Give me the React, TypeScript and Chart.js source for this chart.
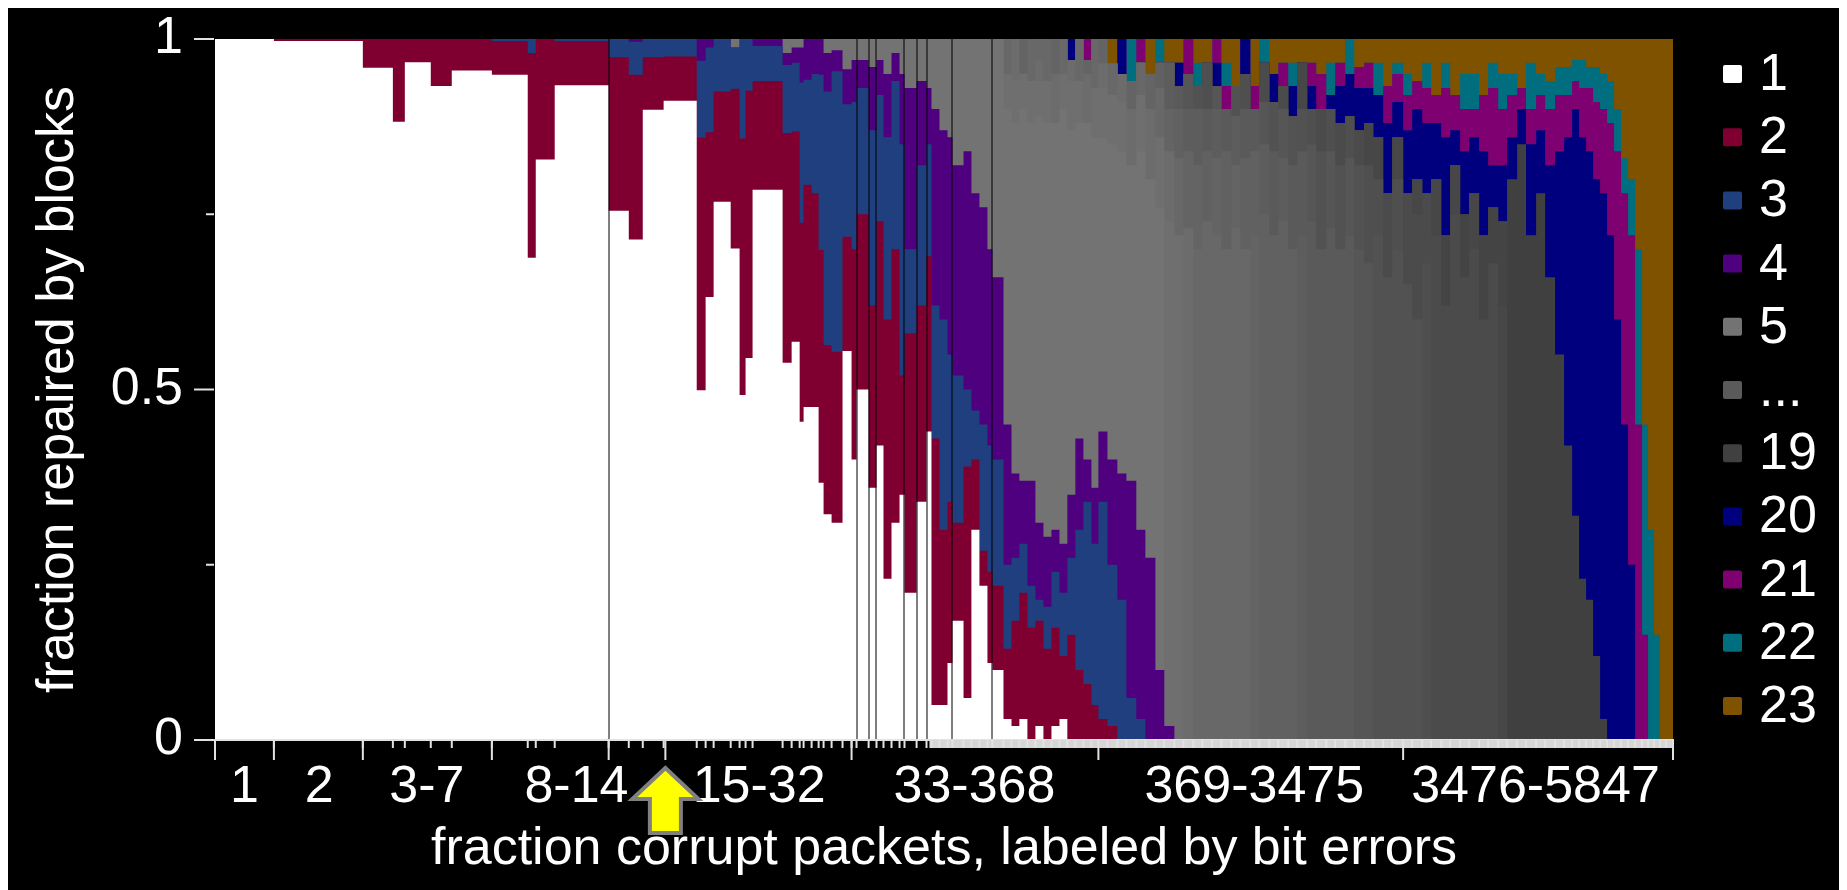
import { useEffect, useRef } from "react";
import { Chart, registerables } from "chart.js";

Chart.register(...registerables);

// Bin boundaries on the x axis: cumulative fraction of corrupt packets.
// Each bin holds one bit-error count (neighbouring counts merged where thin).
const binEdges = [
  0, 0.0404, 0.1014, 0.122, 0.1302, 0.148, 0.1624, 0.1899, 0.2145, 0.22, 0.233,
  0.27, 0.2838, 0.2934, 0.3077, 0.3304, 0.3365, 0.342, 0.3537, 0.3598, 0.3639, 0.3687,
  0.3893, 0.3955, 0.401, 0.4037, 0.4092, 0.414, 0.4174, 0.4229, 0.4304, 0.4366,
  0.44, 0.4483, 0.4537, 0.4585, 0.464, 0.4695, 0.4729, 0.4812, 0.488, 0.4914, 0.4969,
  0.5024, 0.5058, 0.5134, 0.5188, 0.5243, 0.5298, 0.5332, 0.5408, 0.5463, 0.5517,
  0.5572, 0.5627, 0.5682, 0.5737, 0.5792, 0.5846, 0.5901, 0.5956, 0.6011, 0.6059,
  0.6121, 0.6189, 0.6251, 0.6319, 0.6381, 0.645, 0.6511, 0.658, 0.6642, 0.671, 0.6772,
  0.684, 0.6902, 0.6971, 0.7032, 0.7101, 0.7162, 0.7231, 0.7293, 0.7361, 0.7423,
  0.7491, 0.7553, 0.7622, 0.7683, 0.7752, 0.7814, 0.7882, 0.7944, 0.8012, 0.8074,
  0.8149, 0.8211, 0.828, 0.8341, 0.841, 0.8472, 0.854, 0.8602, 0.867, 0.8732, 0.8801,
  0.8862, 0.8931, 0.8992, 0.9061, 0.9123, 0.9191, 0.9253, 0.9308, 0.9356, 0.9404,
  0.9452, 0.95, 0.9548, 0.9596, 0.9644, 0.9692, 0.974, 0.9788, 0.9829, 0.987, 0.9911,
  0.9952, 1,
];

// Number of blocks needed for the repair: the stacked layers, bottom to top.
const blockCounts = [
  "1", "2", "3", "4", "5", "6", "7", "8", "9", "10", "11", "12",
  "13", "14", "15", "16", "17", "18", "19", "20", "21", "22", "23",
];

// Share of each bin repaired by exactly k blocks, listed from the bin given in firstBin.
const repairedBy1 = [
  1, 0.997, 0.959, 0.882, 0.967, 0.933, 0.955, 0.949, 0.688, 0.828, 0.934,
  0.755, 0.714, 0.899, 0.912, 0.499, 0.632, 0.768, 0.701, 0.492, 0.545, 0.785, 0.538,
  0.568, 0.454, 0.475, 0.475, 0.367, 0.322, 0.31, 0.555,
  0.4, 0.5, 0.36, 0.42, 0.23, 0.31, 0.35, 0.21, 0.34, 0.44, 0.05, 0.05, 0.11, 0.17,
  0.06, 0.3, 0.22, 0.11, 0.1, 0.03, 0.02, 0.03, 0, 0.02, 0, 0.02, 0.03,
];
const repairedBy2 = [
  0.003, 0.041, 0.118, 0.033, 0.067, 0.045, 0.048, 0.292, 0.172, 0.063,
  0.219, 0.235, 0.075, 0.063, 0.36, 0.235, 0.157, 0.228, 0.366, 0.381, 0.155, 0.328,
  0.3, 0.284, 0.317, 0.305, 0.332, 0.241, 0.244, 0.163,
  0.3, 0.25, 0.26, 0.32, 0.37, 0.39, 0.17, 0.37, 0.28, 0.25, 0.38, 0.25, 0.23, 0.14,
  0.33, 0.1, 0.05, 0.13, 0.12,
  0.1, 0.15, 0.18, 0.16, 0.15, 0.13, 0.14, 0.09, 0.15, 0.1, 0.08, 0.05, 0.03, 0.02,
];
const repairedBy3 = [
  0.003, 0.02, 0, 0.003,
  0.026, 0.047, 0.026, 0.025, 0.11, 0.121, 0.075, 0.059, 0.142, 0.074, 0.05, 0.097,
  0.098, 0.2, 0.15, 0.17, 0.25, 0.362, 0.4, 0.189,
  0.21, 0.18, 0.25, 0.18, 0.26, 0.24, 0.33, 0.12, 0.2, 0.16, 0.19, 0.3, 0.21, 0.21,
  0.11, 0.07, 0.18, 0.18, 0.18,
  0.12, 0.09, 0.07, 0.06, 0.03, 0.06, 0.08, 0.09, 0.11, 0.2, 0.26, 0.23, 0.31, 0.23,
  0.2, 0.06, 0.03,
];
const repairedBy4 = [
  0.004, 0, 0, 0.031, 0.012, 0, 0, 0, 0, 0.01, 0.017, 0.022, 0.05, 0.058, 0.05, 0.051,
  0.055, 0.03, 0.05,
  0.06, 0.04, 0.09, 0.05, 0.09, 0.04, 0.1, 0.23, 0.12, 0.08, 0.28, 0.27, 0.31, 0.3,
  0.34, 0.31, 0.31, 0.28, 0.26,
  0.2, 0.12, 0.09, 0.15, 0.11, 0.1, 0.06, 0.07, 0.09, 0.13, 0.06, 0.08, 0.1, 0.15,
  0.18, 0.31, 0.27, 0.26, 0.1, 0.02,
];
const repairedBy5 = [
  0.012, 0, 0, 0, 0.02, 0.012, 0.012, 0, 0, 0, 0.02, 0.016, 0.043,
  0.03, 0.03, 0.04, 0.03, 0.05, 0.02, 0.05, 0.07, 0.06, 0.07, 0.1, 0.13, 0.14, 0.18,
  0.16, 0.22, 0.24, 0.3, 0.34,
  0.45, 0.5, 0.53, 0.51, 0.58, 0.59, 0.58, 0.62, 0.52, 0.45, 0.48, 0.5, 0.42, 0.45,
  0.46, 0.45, 0.54, 0.54, 0.66,
];
const repairedBy6 = [
  0.05, 0.06, 0.05, 0.06, 0.05, 0.06, 0, 0.05, 0.07, 0.06, 0, 0.07, 0.07, 0.07, 0.07,
  0, 0.08, 0, 0.1, 0.72, 0.72,
];
const repairedBy7 = [
  0.06, 0, 0, 0.03, 0, 0.07, 0, 0.03, 0, 0.07, 0, 0.035, 0, 0.04, 0.08, 0, 0.1, 0,
  0.1, 0, 0.73,
];
const repairedBy8 = [
  0.05, 0, 0, 0.06, 0.03, 0.06, 0, 0.05, 0, 0.06, 0, 0.07, 0, 0.045, 0, 0, 0.046, 0,
  0.07, 0, 0.11, 0, 0.7, 0.74, 0.72, 0.7, 0.73, 0.7,
];
const repairedBy9 = [
  0.05, 0, 0, 0, 0.05, 0, 0, 0, 0.02, 0, 0.035, 0, 0, 0.04, 0, 0.05, 0, 0.06, 0, 0.11,
  0.12, 0, 0.11, 0, 0.09, 0, 0.72,
];
const repairedBy10 = [0.036, 0, 0.07, 0, 0, 0.1, 0, 0.14, 0, 0.13, 0.12, 0.75, 0.72, 0.74, 0.7];
const repairedBy11 = [0.066, 0, 0.06, 0.08, 0, 0.07, 0, 0.07, 0, 0, 0.1, 0, 0.09, 0, 0.72];
const repairedBy12 = [
  0.033, 0, 0, 0.06, 0, 0.06, 0, 0.07, 0.06, 0, 0.12, 0, 0.12, 0.12, 0.74, 0.7, 0.73,
  0.7, 0.72,
];
const repairedBy13 = [
  0.05, 0, 0, 0.033, 0, 0, 0, 0, 0.06, 0, 0.07, 0, 0, 0.11, 0, 0.11, 0, 0.11, 0.7, 0.68,
];
const repairedBy14 = [
  0.033, 0, 0, 0, 0.043, 0, 0, 0, 0.07, 0, 0.07, 0.06, 0, 0.14, 0, 0.12, 0, 0.12, 0,
  0.72, 0.66, 0.7, 0.65, 0.6,
];
const repairedBy15 = [
  0.066, 0, 0, 0, 0.05, 0, 0, 0, 0, 0, 0, 0.05, 0, 0.06, 0, 0.06, 0, 0.14, 0.08, 0,
  0.1, 0, 0, 0.68,
];
const repairedBy16 = [
  0.056, 0, 0.033, 0, 0, 0, 0.06, 0, 0.06, 0, 0.05, 0, 0, 0.12, 0, 0.13, 0.15, 0.1,
  0.72, 0.62, 0.75, 0.66, 0.7, 0.6, 0.68,
];
const repairedBy17 = [
  0.066, 0, 0, 0, 0, 0, 0, 0.06, 0.06, 0, 0.06, 0, 0.05, 0, 0.08, 0, 0.07, 0, 0.08, 0,
  0, 0.62,
];
const repairedBy18 = [0.1, 0, 0.09, 0, 0.12, 0.08, 0.12];
const repairedBy19 = [0.8, 0.85, 0.72, 0.78, 0.66, 0.55, 0.42, 0.32, 0.23, 0.2, 0.12, 0.03];
const repairedBy20 = [
  0.03, 0, 0, 0, 0, 0, 0.05, 0, 0, 0, 0, 0, 0.033, 0, 0, 0, 0.033, 0, 0, 0.05, 0, 0,
  0.04, 0, 0.043, 0, 0.033, 0, 0.02, 0.053, 0.06, 0.06, 0.05, 0.06, 0.1, 0.05, 0.09,
  0.1, 0.1, 0.08, 0.14, 0.05, 0.09, 0.08, 0.12, 0.06, 0.08, 0.06, 0.05, 0.13, 0.09,
  0.16, 0.29, 0.44, 0.58, 0.63, 0.64, 0.68, 0.75, 0.72, 0.6, 0.45, 0.25,
];
const repairedBy21 = [
  0.03, 0, 0, 0, 0, 0, 0.034, 0, 0, 0, 0, 0.05, 0, 0, 0.034, 0.033, 0, 0, 0.033, 0, 0,
  0.033, 0, 0, 0.033, 0.05, 0, 0.033, 0, 0.03, 0.036, 0, 0.053, 0.04, 0.05, 0.04,
  0.05, 0.04, 0.07, 0.05, 0.06, 0.04, 0.08, 0.11, 0.08, 0.06, 0.03, 0.05, 0.05, 0.08,
  0.08, 0.06, 0.04, 0.07, 0.09, 0.11, 0.12, 0.16, 0.24, 0.33, 0.47, 0.45, 0.15,
];
const repairedBy22 = [
  0.06, 0, 0, 0.034, 0, 0, 0, 0.033, 0, 0, 0.033, 0, 0, 0, 0.034, 0, 0, 0.033, 0, 0,
  0, 0.046, 0, 0.05, 0, 0, 0.046, 0, 0.016, 0.03, 0, 0.036, 0, 0.036, 0, 0.05, 0.05, 0,
  0.036, 0.05, 0.03, 0, 0.066, 0.03, 0.04, 0.04, 0.04, 0.03, 0.04, 0.03, 0.05, 0.05,
  0.06, 0.06, 0.05, 0.08, 0.25, 0.3, 0.3, 0.15,
];
const repairedBy23 = [
  0.035, 0, 0, 0, 0.05, 0, 0.034, 0.034, 0, 0.034, 0.034, 0, 0.034, 0.067, 0, 0.067, 0,
  0.05, 0.034, 0.034, 0.034, 0.034, 0.05, 0.034, 0.034, 0, 0.04, 0.034, 0.034, 0.067,
  0.034, 0.05, 0.06, 0.034, 0.08, 0.034, 0.08, 0.05, 0.05, 0.08, 0.034, 0.05, 0.05,
  0.07, 0.034, 0.05, 0.06, 0.04, 0.04, 0.03, 0.03, 0.04, 0.04, 0.05, 0.06, 0.1, 0.17,
  0.2, 0.3, 0.55, 0.7, 0.85, 1, 1,
];

// Index of the first bin each list above starts at.
const firstBin = [0, 1, 7, 12, 18, 50, 51, 50, 52, 68, 69, 70, 71, 72, 73, 79, 83, 98, 105, 58, 60, 65, 63];

// x axis: group labels, their anchors, group boundaries and the marked fraction.
const groupLabels = ["1", "2", "3-7", "8-14", "15-32", "33-368", "369-3475", "3476-5847"];
const groupLabelAt = [0.0202, 0.0715, 0.1453, 0.2479, 0.3732, 0.5209, 0.7128, 0.9057];
const groupBounds = [0, 0.0404, 0.1014, 0.1899, 0.27, 0.4366, 0.6059, 0.8149, 1];
const markedFraction = 0.3089;

// y axis ticks.
const yTickValues = [0, 0.25, 0.5, 0.75, 1];
const yTickLabels = ["0", "", "0.5", "", "1"];

// Legend rows: label and the layer whose colour it shows.
const legendLabels = ["1", "2", "3", "4", "5", "...", "19", "20", "21", "22", "23"];
const legendLayer = [0, 1, 2, 3, 4, 11, 18, 19, 20, 21, 22];

// Bin boundaries that show up as thin dark seams across the plot.
const seamBins = [11, 32, 33, 34, 38, 39, 40, 44, 49];

const layerColors = [
  "#ffffff", "#7f0030", "#1f3f7f", "#4f007f",
  "#737373", "#6f6f6f", "#6c6c6c", "#686868", "#646464", "#616161", "#5d5d5d",
  "#5a5a5a", "#565656", "#525252", "#4f4f4f", "#4b4b4b", "#474747", "#444444", "#404040",
  "#00007f", "#7f0070", "#006e7f", "#7f5200",
];

const FONT_FAMILY = "'Liberation Sans', Arial, Helvetica, sans-serif";
const TICK_COLOR = "#e2e2e2";

const layers = [
  repairedBy1, repairedBy2, repairedBy3, repairedBy4, repairedBy5, repairedBy6,
  repairedBy7, repairedBy8, repairedBy9, repairedBy10, repairedBy11, repairedBy12,
  repairedBy13, repairedBy14, repairedBy15, repairedBy16, repairedBy17, repairedBy18,
  repairedBy19, repairedBy20, repairedBy21, repairedBy22, repairedBy23,
];

function buildDatasets() {
  const nBins = binEdges.length - 1;
  return layers.map((values, k) => {
    const full: number[] = new Array(nBins).fill(0);
    values.forEach((v, i) => {
      full[firstBin[k] + i] = v;
    });
    // each bin's value holds from its left edge to the next edge
    const data = full.map((v, i) => ({ x: binEdges[i], y: v }));
    data.push({ x: binEdges[nBins], y: full[nBins - 1] });
    return {
      label: blockCounts[k],
      data,
      backgroundColor: layerColors[k],
      borderColor: layerColors[k],
      borderWidth: 0,
      pointRadius: 0,
      pointHoverRadius: 0,
      fill: "origin",
      stepped: "before" as const,
      tension: 0,
    };
  });
}

const axisDecor = {
  id: "axisDecor",
  beforeDraw(chart: any) {
    const { ctx, width, height } = chart;
    ctx.save();
    ctx.fillStyle = "#000000";
    ctx.fillRect(0, 0, width, height);
    ctx.restore();
  },
  afterDatasetsDraw(chart: any) {
    const { ctx, chartArea: a, scales } = chart;
    const x = scales.x;
    const y = scales.y;
    ctx.save();

    // thin seams at a few bin boundaries
    ctx.fillStyle = "#000000";
    for (const i of seamBins) {
      const px = Math.round(x.getPixelForValue(binEdges[i]));
      ctx.fillRect(px - 0.5, a.top, 1, a.bottom - a.top);
    }

    ctx.fillStyle = TICK_COLOR;
    // x axis line
    ctx.fillRect(a.left - 21, a.bottom - 1, a.right - a.left + 22, 2);

    // y ticks: long at labelled values, short in between
    yTickValues.forEach((v, i) => {
      const py = y.getPixelForValue(v);
      const len = yTickLabels[i] ? 20 : 8;
      ctx.fillRect(a.left - 1 - len, py - 1, len, 2);
    });

    // dense minor ticks of the many-count groups
    const bandStart = x.getPixelForValue(0.49);
    ctx.fillStyle = "#d6d6d6";
    ctx.fillRect(bandStart, a.bottom, a.right - bandStart, 8);

    // minor ticks at every bin boundary
    ctx.fillStyle = TICK_COLOR;
    for (const e of binEdges) {
      const px = x.getPixelForValue(e);
      ctx.fillRect(px - 1, a.bottom, 2, 8);
    }
    // long ticks at group boundaries and the marked fraction
    for (const e of [...groupBounds, markedFraction]) {
      const px = x.getPixelForValue(e);
      ctx.fillRect(px - 1, a.bottom, 2, 20);
    }
    ctx.restore();
  },
  afterDraw(chart: any) {
    const { ctx, chartArea: a, scales } = chart;
    ctx.save();

    // arrow under the marked fraction
    const cx = scales.x.getPixelForValue(markedFraction);
    const top = a.bottom + 28;
    const outline: [number, number][] = [
      [0, 0], [33, 31], [15.5, 31], [15.5, 65], [-15.5, 65], [-15.5, 31], [-33, 31],
    ];
    ctx.beginPath();
    outline.forEach(([dx, dy], i) => {
      if (i === 0) ctx.moveTo(cx + dx, top + dy);
      else ctx.lineTo(cx + dx, top + dy);
    });
    ctx.closePath();
    ctx.fillStyle = "#ffff00";
    ctx.fill();
    ctx.lineWidth = 4;
    ctx.lineJoin = "miter";
    ctx.strokeStyle = "#808080";
    ctx.stroke();

    // legend
    const boxLeft = a.right + 50;
    ctx.font = `52px ${FONT_FAMILY}`;
    ctx.textAlign = "left";
    ctx.textBaseline = "alphabetic";
    legendLabels.forEach((label, i) => {
      const cy = a.top + 35 + i * 63.2;
      ctx.fillStyle = layerColors[legendLayer[i]];
      ctx.beginPath();
      if (ctx.roundRect) ctx.roundRect(boxLeft, cy - 9, 19, 18, 2);
      else ctx.rect(boxLeft, cy - 9, 19, 18);
      ctx.fill();
      ctx.fillStyle = "#ffffff";
      ctx.fillText(label, boxLeft + 36, cy + 16);
    });
    ctx.restore();
  },
};

export default function App() {
  const canvasRef = useRef<HTMLCanvasElement>(null);

  useEffect(() => {
    const root = document.documentElement;
    const prevOverflow = root.style.overflow;
    root.style.overflow = "hidden";

    const font = { family: FONT_FAMILY, size: 52 };
    const chart = new Chart(canvasRef.current as HTMLCanvasElement, {
      type: "line",
      data: { datasets: buildDatasets() as any },
      options: {
        animation: false,
        responsive: true,
        maintainAspectRatio: false,
        events: [],
        layout: { padding: { left: 0, top: 31, right: 166, bottom: 0 } },
        plugins: {
          legend: { display: false },
          tooltip: { enabled: false },
        },
        scales: {
          x: {
            type: "linear",
            position: "bottom",
            min: 0,
            max: 1,
            grid: { display: false, drawTicks: false },
            border: { display: false },
            ticks: {
              color: "#ffffff",
              font,
              padding: 16,
              autoSkip: false,
              maxRotation: 0,
              minRotation: 0,
              callback: (_v: any, i: number) => groupLabels[i],
            },
            title: {
              display: true,
              text: "fraction corrupt packets, labeled by bit errors",
              color: "#ffffff",
              font,
              padding: { top: 0, bottom: 9 },
            },
            afterBuildTicks: (scale: any) => {
              scale.ticks = groupLabelAt.map((v) => ({ value: v }));
            },
            afterFit: (scale: any) => {
              scale.height = 150;
              scale.paddingLeft = 0;
              scale.paddingRight = 0;
            },
          },
          y: {
            stacked: true,
            min: 0,
            max: 1,
            grid: { display: false, drawTicks: false },
            border: { display: false },
            ticks: {
              color: "#ffffff",
              font,
              padding: 32,
              callback: (_v: any, i: number) => yTickLabels[i],
            },
            title: {
              display: true,
              text: "fraction repaired by blocks",
              color: "#ffffff",
              font,
              padding: { top: 19, bottom: 0 },
            },
            afterBuildTicks: (scale: any) => {
              scale.ticks = yTickValues.map((v) => ({ value: v }));
            },
            afterFit: (scale: any) => {
              scale.width = 207;
              scale.paddingTop = 0;
              scale.paddingBottom = 0;
            },
          },
        },
      } as any,
      plugins: [axisDecor],
    });

    return () => {
      chart.destroy();
      root.style.overflow = prevOverflow;
    };
  }, []);

  return (
    <div style={{ position: "relative", width: "100%", height: 882 }}>
      <canvas ref={canvasRef} />
    </div>
  );
}
